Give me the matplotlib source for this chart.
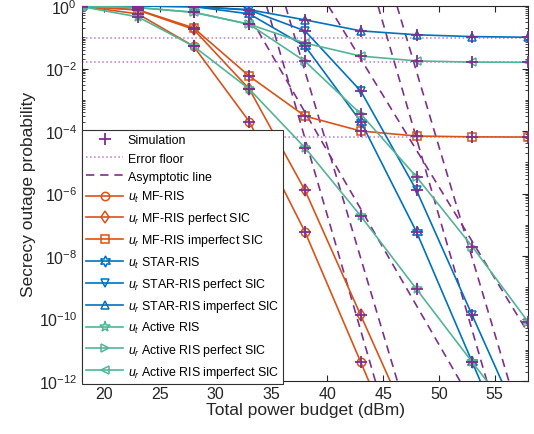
import numpy as np
import matplotlib
matplotlib.use('Agg')
import matplotlib.pyplot as plt
from matplotlib.ticker import LogLocator, LogFormatterSciNotation, NullFormatter

plt.rcParams['font.family'] = ['Liberation Sans', 'DejaVu Sans']
plt.rcParams['mathtext.fontset'] = 'custom'
plt.rcParams['mathtext.rm'] = 'Liberation Sans'
plt.rcParams['mathtext.it'] = 'Liberation Sans:italic'

# total power budget (dBm)
x = [18, 23, 28, 33, 38, 43, 48, 53, 58]

# secrecy outage probability
mf_ut = [0.98, 0.56, 5.2e-2, 2.0e-4, 5.9e-8, 4.0e-12, 2.5e-16]
mf_perfect = [0.98, 0.74, 0.18, 2.2e-3, 1.26e-6, 1.26e-10, 1.3e-14]
mf_imperfect = [0.98, 0.76, 0.2, 5.7e-3, 3.0e-4, 1.0e-4, 6.9e-5, 6.5e-5, 6.4e-5]
star_ut = [1.0, 1.0, 0.96, 0.56, 5.2e-2, 2.0e-4, 5.9e-8, 4.0e-12, 2.5e-16]
star_perfect = [1.0, 1.0, 0.96, 0.74, 0.16, 1.9e-3, 1.26e-6, 1.26e-10, 1.3e-14]
star_imperfect = [1.0, 1.0, 0.96, 0.76, 0.36, 0.16, 0.12, 0.105, 0.1]
act_ut = [0.95, 0.45, 5.2e-2, 2.2e-3, 2.9e-5, 1.9e-7, 8.7e-10, 4.0e-12, 2.0e-14]
act_perfect = [0.98, 0.89, 0.63, 0.26, 1.7e-2, 3.5e-4, 3.4e-6, 2.0e-8, 7.9e-11]
act_imperfect = [0.98, 0.89, 0.63, 0.26, 6.5e-2, 2.5e-2, 1.75e-2, 1.6e-2, 1.58e-2]

# error floors
floors = [9.3e-2, 1.58e-2, 6.3e-5]

# asymptotic lines: (x where they enter, x where they leave), (y in, y out)
asym_x = [[34.55, 44.31], [36.25, 46.28], [44.55, 54.31],
          [46.25, 56.28], [32.5, 51.9], [40.1, 58.0]]
asym_y = [[1, 1e-12], [1, 1e-12], [1, 1e-12],
          [1, 1e-12], [1, 1e-12], [1, 3.5e-11]]

red = '#D95319'
blue = '#0072BD'
green = '#52B596'
purple = '#7E2F8E'
lilac = '#B77FD0'

hexa = (6, 1, 0)
curves = [
    (mf_ut, red, 'o', '$u_t$ MF-RIS'),
    (mf_perfect, red, 'd', '$u_r$ MF-RIS perfect SIC'),
    (mf_imperfect, red, 's', '$u_r$ MF-RIS imperfect SIC'),
    (star_ut, blue, hexa, '$u_t$ STAR-RIS'),
    (star_perfect, blue, 'v', '$u_r$ STAR-RIS perfect SIC'),
    (star_imperfect, blue, '^', '$u_r$ STAR-RIS imperfect SIC'),
    (act_ut, green, '*', '$u_t$ Active RIS'),
    (act_perfect, green, '>', '$u_r$ Active RIS perfect SIC'),
    (act_imperfect, green, '<', '$u_r$ Active RIS imperfect SIC'),
]

fig = plt.figure(figsize=(5.34, 4.35), dpi=100)
ax = fig.add_axes([0.1536, 0.1218, 0.8352, 0.8621])

for f in floors:
    ax.axhline(f, color=lilac, ls=':', lw=1.1, zorder=1)
for xs, ys in zip(asym_x, asym_y):
    ax.plot(xs, ys, color=purple, ls=(0, (5, 3.5)), lw=1.2, zorder=2)

handles = []
for ys, c, m, lab in curves:
    xs = x[:len(ys)]
    ms = 8 if m in ('*', hexa) else 6
    h, = ax.plot(xs, ys, color=c, marker=m, ms=ms, mfc='none', mew=1.1,
                 lw=1.2, label=lab, zorder=3)
    handles.append(h)
for ys, c, m, lab in curves:
    xs = x[:len(ys)]
    ax.plot(xs, ys, ls='none', marker='+', ms=8, mew=1.3, color=purple, zorder=4)

h_sim, = ax.plot([], [], ls='none', marker='+', ms=8, mew=1.3, color=purple)
h_floor, = ax.plot([], [], color=lilac, ls=':', lw=1.1)
h_asym, = ax.plot([], [], color=purple, ls=(0, (5, 3.5)), lw=1.2)

ax.set_yscale('log')
ax.set_xlim(18, 58)
ax.set_ylim(1e-12, 1)
ax.set_xticks([20, 25, 30, 35, 40, 45, 50, 55])
ax.set_yticks([1e-12, 1e-10, 1e-8, 1e-6, 1e-4, 1e-2, 1])
ax.yaxis.set_major_formatter(LogFormatterSciNotation(base=10))
ax.yaxis.set_minor_locator(LogLocator(base=10, subs=np.arange(1, 10), numticks=50))
ax.yaxis.set_minor_formatter(NullFormatter())
ax.tick_params(which='both', direction='in', top=True, right=True,
               labelsize=11.5, color='#262626', labelcolor='#262626')
ax.tick_params(which='major', length=4)
ax.tick_params(which='minor', length=2)
for s in ax.spines.values():
    s.set_color('#262626')
    s.set_linewidth(0.8)

ax.set_xlabel('Total power budget (dBm)', fontsize=12.5, color='#262626', labelpad=1)
ax.set_ylabel('Secrecy outage probability', fontsize=12.5, color='#262626', labelpad=2)

leg = ax.legend([h_sim, h_floor, h_asym] + handles,
                ['Simulation', 'Error floor', 'Asymptotic line'] + [c[3] for c in curves],
                loc='lower left', bbox_to_anchor=(0, -0.008), borderaxespad=0,
                fontsize=8.9, handlelength=3.0, handletextpad=0.35,
                labelspacing=0.5, borderpad=0.35, fancybox=False,
                framealpha=1, edgecolor='#333333')
leg.get_frame().set_linewidth(0.8)
leg.set_zorder(10)

fig.savefig('out.png', dpi=100)
